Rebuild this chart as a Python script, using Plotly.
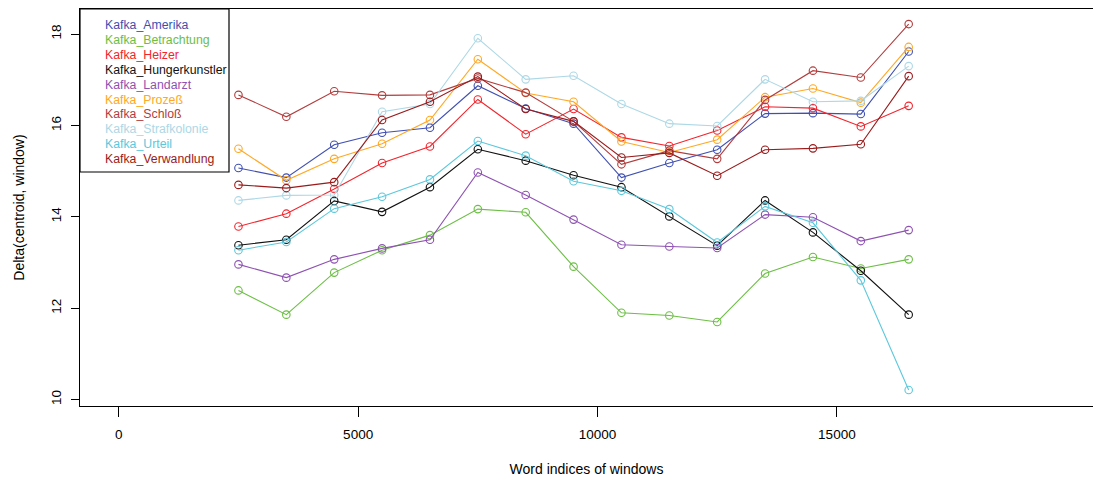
import plotly.graph_objects as go

# Window positions (word indices of window centres)
windows = [2500, 3500, 4500, 5500, 6500, 7500, 8500, 9500,
           10500, 11500, 12500, 13500, 14500, 15500, 16500]

amerika = [15.07, 14.86, 15.58, 15.84, 15.95, 16.87, 16.37, 16.04,
           14.86, 15.18, 15.47, 16.26, 16.27, 16.25, 17.62]
betrachtung = [12.39, 11.86, 12.78, 13.27, 13.60, 14.17, 14.10, 12.91,
               11.90, 11.84, 11.70, 12.76, 13.12, 12.87, 13.07]
heizer = [13.79, 14.07, 14.61, 15.18, 15.54, 16.57, 15.81, 16.36,
          15.74, 15.55, 15.89, 16.41, 16.38, 15.98, 16.43]
hungerkunstler = [13.38, 13.50, 14.35, 14.11, 14.65, 15.48, 15.23, 14.91,
                  14.65, 14.01, 13.37, 14.36, 13.66, 12.82, 11.86]
landarzt = [12.96, 12.67, 13.07, 13.31, 13.50, 14.97, 14.48, 13.94,
            13.39, 13.35, 13.32, 14.05, 13.99, 13.47, 13.71]
prozess = [15.49, 14.80, 15.27, 15.60, 16.12, 17.45, 16.71, 16.52,
           15.65, 15.41, 15.69, 16.62, 16.81, 16.50, 17.72]
schloss = [16.67, 16.19, 16.75, 16.66, 16.67, 17.03, 16.72, 16.09,
           15.15, 15.45, 15.27, 16.56, 17.20, 17.05, 18.22]
strafkolonie = [14.36, 14.47, 14.48, 16.30, 16.47, 17.91, 17.01, 17.09,
                16.47, 16.04, 15.99, 17.01, 16.52, 16.54, 17.30]
urteil = [13.27, 13.45, 14.18, 14.44, 14.82, 15.66, 15.34, 14.78,
          14.57, 14.17, 13.44, 14.23, 13.87, 12.61, 10.21]
verwandlung = [14.70, 14.63, 14.76, 16.12, 16.52, 17.07, 16.36, 16.09,
               15.30, 15.40, 14.90, 15.47, 15.50, 15.59, 17.08]

names = ["Kafka_Amerika", "Kafka_Betrachtung", "Kafka_Heizer",
         "Kafka_Hungerkunstler", "Kafka_Landarzt", "Kafka_Prozeß",
         "Kafka_Schloß", "Kafka_Strafkolonie", "Kafka_Urteil",
         "Kafka_Verwandlung"]
series = [amerika, betrachtung, heizer, hungerkunstler, landarzt, prozess,
          schloss, strafkolonie, urteil, verwandlung]
colors = ["#3F50B2", "#6CBE45", "#F2252D", "#111111", "#8E52B2",
          "#FFA823", "#B23D3D", "#ADD8E6", "#5CC8DC", "#9A1B1B"]

x_ticks = [0, 5000, 10000, 15000]
y_ticks = [10, 12, 14, 16, 18]

W, H = 1093, 482
ML, MR, MT, MB = 80, 0, 9, 76
PW, PH = W - ML - MR, H - MT - MB

FONT = "Liberation Sans, Arial, sans-serif"

fig = go.Figure()
for name, ys, col in zip(names, series, colors):
    fig.add_trace(go.Scatter(
        x=windows, y=ys, name=name, mode="lines+markers",
        line=dict(color=col, width=1.1),
        marker=dict(symbol="circle-open", size=7.5,
                    line=dict(color=col, width=1.1)),
        showlegend=False,
    ))


def px_x(p):
    return (p - ML) / PW


def px_y(p):
    return (H - MB - p) / PH


# Legend box with coloured labels
box_l, box_r, box_t, box_b = 80, 229, 9, 172
fig.add_shape(type="rect", xref="paper", yref="paper",
              x0=px_x(box_l), x1=px_x(box_r), y0=px_y(box_b), y1=px_y(box_t),
              line=dict(color="black", width=1.2), fillcolor="white", layer="above")
for i, (name, col) in enumerate(zip(names, colors)):
    fig.add_annotation(xref="paper", yref="paper",
                       x=px_x(103), y=px_y(25 + i * 14.9),
                       text=name, showarrow=False, xanchor="left", yanchor="middle",
                       font=dict(family=FONT, size=12.3, color=col))

fig.update_layout(
    width=W, height=H,
    margin=dict(l=ML, r=MR, t=MT, b=MB, pad=0),
    paper_bgcolor="white", plot_bgcolor="white",
    font=dict(family=FONT, size=13, color="black"),
    xaxis=dict(
        range=[-810, 20350], tickvals=x_ticks,
        ticktext=[str(v) for v in x_ticks],
        showgrid=False, zeroline=False,
        showline=True, mirror=True, linecolor="black", linewidth=1.2,
        ticks="outside", ticklen=10, tickcolor="black", tickwidth=1,
        tickfont=dict(size=13.5), ticklabelstandoff=6,
        title=dict(text="Word indices of windows", font=dict(size=14), standoff=22),
    ),
    yaxis=dict(
        range=[9.86, 18.55], tickvals=y_ticks,
        ticktext=[str(v) for v in y_ticks],
        showgrid=False, zeroline=False,
        showline=True, mirror=False, linecolor="black", linewidth=1.2,
        ticks="outside", ticklen=8, tickcolor="black", tickwidth=1,
        tickangle=-90, tickfont=dict(size=13.5), ticklabelstandoff=5,
        title=dict(text="Delta(centroid, window)", font=dict(size=14), standoff=20),
    ),
)

fig.write_html("out.html", config={"displayModeBar": False})
